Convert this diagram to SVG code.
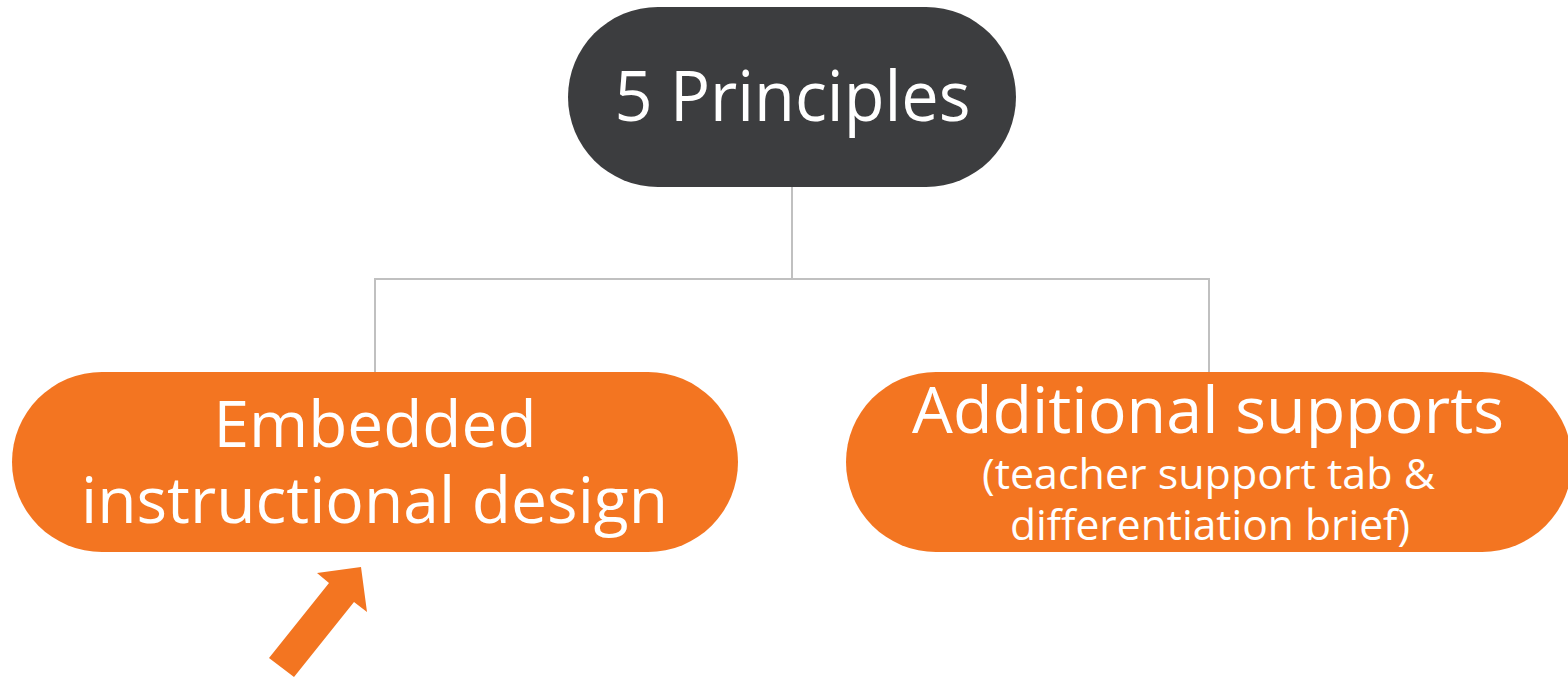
<svg xmlns="http://www.w3.org/2000/svg" width="1568" height="678" viewBox="0 0 1568 678">
  <style>
    .pill-dark { fill: #3c3d3f; }
    .pill-orange { fill: #f37521; }
    .label { font-family: "Open Sans", "Noto Sans", "Liberation Sans", sans-serif; fill: #ffffff; text-anchor: middle; }
    .link { fill: none; stroke: #c0c0c0; stroke-width: 2; }
    .pointer { fill: #f37521; }
  </style>
  <rect width="1568" height="678" fill="#ffffff"/>

  <!-- tree connectors -->
  <g id="connectors">
    <path class="link" d="M792 187 V279"/>
    <path class="link" d="M375 372 V279 H1209 V372"/>
  </g>

  <!-- root -->
  <g id="node-root">
    <rect class="pill-dark" x="568" y="7" width="448" height="180" rx="90" ry="90"/>
    <text class="label" x="792.5" y="121" font-size="70" textLength="356" lengthAdjust="spacingAndGlyphs">5 Principles</text>
  </g>

  <!-- left child -->
  <g id="node-embedded">
    <rect class="pill-orange" x="12" y="372" width="726" height="180" rx="90" ry="90"/>
    <text class="label" x="375" y="447" font-size="64" textLength="323" lengthAdjust="spacingAndGlyphs">Embedded</text>
    <text class="label" x="374.5" y="523" font-size="64" textLength="587" lengthAdjust="spacingAndGlyphs">instructional design</text>
  </g>

  <!-- right child -->
  <g id="node-additional">
    <rect class="pill-orange" x="846" y="372" width="726" height="180" rx="90" ry="90"/>
    <text class="label" x="1208" y="433" font-size="64" textLength="592" lengthAdjust="spacingAndGlyphs">Additional supports</text>
    <text class="label" x="1208.5" y="489" font-size="42" textLength="453" lengthAdjust="spacingAndGlyphs">(teacher support tab &amp;</text>
    <text class="label" x="1210" y="540" font-size="42" textLength="400" lengthAdjust="spacingAndGlyphs">differentiation brief)</text>
  </g>

  <!-- pointer arrow -->
  <g id="pointer-arrow">
    <polygon class="pointer" points="361,567 367,612 354,602 294,677 269,658 329,583 317,573"/>
  </g>
</svg>
